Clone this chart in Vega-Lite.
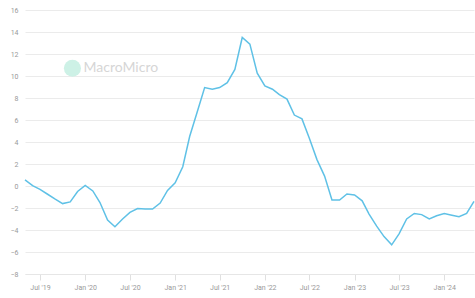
{
  "$schema": "https://vega.github.io/schema/vega-lite/v6.json",
  "width": 449,
  "height": 264,
  "autosize": {"type": "none"},
  "padding": {"left": 25, "top": 10, "right": 1, "bottom": 24},
  "background": "white",
  "config": {"view": {"stroke": null}, "font": "Roboto"},
  "datasets": {
    "series": [
      {"date": "2019-05-01", "value": 0.55},
      {"date": "2019-06-01", "value": 0.03},
      {"date": "2019-07-01", "value": -0.3},
      {"date": "2019-08-01", "value": -0.75},
      {"date": "2019-09-01", "value": -1.2},
      {"date": "2019-10-01", "value": -1.6},
      {"date": "2019-11-01", "value": -1.45},
      {"date": "2019-12-01", "value": -0.5},
      {"date": "2020-01-01", "value": 0.05},
      {"date": "2020-02-01", "value": -0.45},
      {"date": "2020-03-01", "value": -1.5},
      {"date": "2020-04-01", "value": -3.1},
      {"date": "2020-05-01", "value": -3.7},
      {"date": "2020-06-01", "value": -3.0},
      {"date": "2020-07-01", "value": -2.4},
      {"date": "2020-08-01", "value": -2.05},
      {"date": "2020-09-01", "value": -2.1},
      {"date": "2020-10-01", "value": -2.1},
      {"date": "2020-11-01", "value": -1.55},
      {"date": "2020-12-01", "value": -0.4},
      {"date": "2021-01-01", "value": 0.3},
      {"date": "2021-02-01", "value": 1.75},
      {"date": "2021-03-01", "value": 4.5},
      {"date": "2021-04-01", "value": 6.75},
      {"date": "2021-05-01", "value": 8.95},
      {"date": "2021-06-01", "value": 8.8},
      {"date": "2021-07-01", "value": 8.95},
      {"date": "2021-08-01", "value": 9.4},
      {"date": "2021-09-01", "value": 10.6},
      {"date": "2021-10-01", "value": 13.5},
      {"date": "2021-11-01", "value": 12.9},
      {"date": "2021-12-01", "value": 10.25},
      {"date": "2022-01-01", "value": 9.1},
      {"date": "2022-02-01", "value": 8.8},
      {"date": "2022-03-01", "value": 8.3},
      {"date": "2022-04-01", "value": 7.9},
      {"date": "2022-05-01", "value": 6.45},
      {"date": "2022-06-01", "value": 6.1},
      {"date": "2022-07-01", "value": 4.35},
      {"date": "2022-08-01", "value": 2.4},
      {"date": "2022-09-01", "value": 0.9},
      {"date": "2022-10-01", "value": -1.27},
      {"date": "2022-11-01", "value": -1.27},
      {"date": "2022-12-01", "value": -0.73},
      {"date": "2023-01-01", "value": -0.82},
      {"date": "2023-02-01", "value": -1.35},
      {"date": "2023-03-01", "value": -2.55},
      {"date": "2023-04-01", "value": -3.65},
      {"date": "2023-05-01", "value": -4.6},
      {"date": "2023-06-01", "value": -5.35},
      {"date": "2023-07-01", "value": -4.35},
      {"date": "2023-08-01", "value": -3.0},
      {"date": "2023-09-01", "value": -2.5},
      {"date": "2023-10-01", "value": -2.6},
      {"date": "2023-11-01", "value": -3.0},
      {"date": "2023-12-01", "value": -2.7},
      {"date": "2024-01-01", "value": -2.5},
      {"date": "2024-02-01", "value": -2.65},
      {"date": "2024-03-01", "value": -2.8},
      {"date": "2024-04-01", "value": -2.5},
      {"date": "2024-05-01", "value": -1.4}
    ],
    "mark": [
      {"date": "2019-11-10", "value": 10.7, "label": "MacroMicro", "tdate": "2019-12-25"}
    ]
  },
  "layer": [
    {
      "data": {"name": "series"},
      "mark": {"type": "line", "color": "#5fc1e6", "strokeWidth": 1.5},
      "encoding": {
        "x": {
          "field": "date",
          "type": "temporal",
          "scale": {"domain": [{"year": 2019, "month": 5, "date": 1}, {"year": 2024, "month": 5, "date": 1}]},
          "axis": {
            "title": null,
            "format": "%b '%y",
            "values": [
              {"year": 2019, "month": 7, "date": 1},
              {"year": 2020, "month": 1, "date": 1},
              {"year": 2020, "month": 7, "date": 1},
              {"year": 2021, "month": 1, "date": 1},
              {"year": 2021, "month": 7, "date": 1},
              {"year": 2022, "month": 1, "date": 1},
              {"year": 2022, "month": 7, "date": 1},
              {"year": 2023, "month": 1, "date": 1},
              {"year": 2023, "month": 7, "date": 1},
              {"year": 2024, "month": 1, "date": 1}
            ],
            "grid": false,
            "domain": true,
            "domainColor": "#e6e6e6",
            "tickColor": "#e0e0e0",
            "tickSize": 6,
            "labelFontSize": 7,
            "labelColor": "#999999",
            "labelPadding": 3,
            "labelOverlap": false
          }
        },
        "y": {
          "field": "value",
          "type": "quantitative",
          "scale": {"domain": [-8, 16], "nice": false},
          "axis": {
            "title": null,
            "values": [-8, -6, -4, -2, 0, 2, 4, 6, 8, 10, 12, 14, 16],
            "tickCount": 13,
            "grid": true,
            "gridColor": "#ebebeb",
            "domain": false,
            "ticks": false,
            "labelFontSize": 7,
            "labelColor": "#999999",
            "labelPadding": 7,
            "labelOverlap": false,
            "labelBound": false,
            "labelFlush": false
          }
        }
      }
    },
    {
      "data": {"name": "mark"},
      "mark": {"type": "point", "shape": "circle", "filled": true, "size": 290, "color": "#cdf1e6", "opacity": 1},
      "encoding": {
        "x": {"field": "date", "type": "temporal"},
        "y": {"field": "value", "type": "quantitative"}
      }
    },
    {
      "data": {"name": "mark"},
      "mark": {"type": "text", "align": "left", "baseline": "middle", "fontSize": 14, "color": "#d6d6d6", "fontWeight": "normal", "font": "Lato"},
      "encoding": {
        "x": {"field": "tdate", "type": "temporal"},
        "y": {"field": "value", "type": "quantitative"},
        "text": {"field": "label"}
      }
    }
  ]
}
